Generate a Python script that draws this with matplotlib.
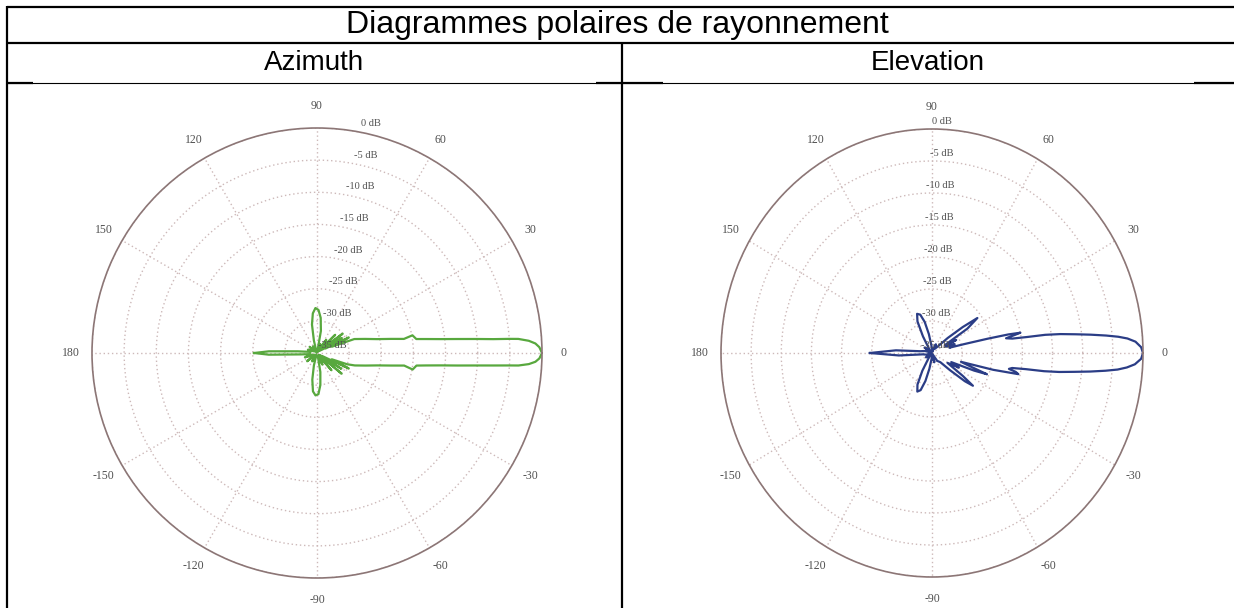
import numpy as np
import matplotlib
matplotlib.use("Agg")
import matplotlib.pyplot as plt
from matplotlib.transforms import offset_copy

# table texts
title = "Diagrammes polaires de rayonnement"
col_titles = ["Azimuth", "Elevation"]

# polar grid
theta_ticks = [0, 30, 60, 90, 120, 150, 180, 210, 240, 270, 300, 330]
theta_labels = ["0", "30", "60", "90", "120", "150", "180",
                "-150", "-120", "-90", "-60", "-30"]
db_rings = [0, -5, -10, -15, -20, -25, -30, -35]
db_labels = ["0 dB", "-5 dB", "-10 dB", "-15 dB", "-20 dB", "-25 dB", "-30 dB", "-35 dB"]

# azimuth pattern (deg, dB)
az_angles = [-180, -178, -175, -170, -160, -150, -140, -130, -120, -112,
             -104, -100, -96, -92, -88, -84, -80, -75, -65, -58,
             -50, -46, -40, -37, -33, -30, -26, -23, -20.5, -18.2,
             -14.5, -11.6, -9.6, -8.2, -9.8, -7.2, -6.5, -5.7, -5.1, -4.45,
             -4.05, -3.7, -3.55, -3.0, -2.3, -1.4, 0,
             1.5, 2.5, 3.3, 4.0, 4.2, 4.5, 5.0, 5.7, 6.4, 7.3,
             8.0, 10.5, 9.2, 10.8, 13.0, 16.3, 20.5, 23, 26, 28,
             31, 33, 37, 40, 45, 48, 55, 60, 70, 76,
             80, 84, 88, 92, 96, 100, 104, 110, 120, 130,
             140, 150, 160, 170, 175, 178, 180]
az_db = [-25.2, -27.5, -32.5, -34, -33, -34.5, -33, -34.5, -33.5, -34.8,
         -33, -30.8, -29, -28.4, -28.6, -30, -32, -34.5, -33, -34.5,
         -31.5, -34.5, -30, -34.5, -30.5, -34, -29.5, -32.5, -30, -28.8,
         -27.2, -25.4, -23.3, -21.3, -19.9, -19.4, -17.9, -15.6, -13.1, -10,
         -7.5, -5, -3.6, -2, -1, -0.4, 0,
         -0.4, -1, -2, -3.6, -5, -7.5, -10, -13.1, -15.6, -17.9,
         -19.4, -19.9, -21.3, -23.3, -25.4, -27.2, -28.8, -32.5, -29.5, -33.5,
         -30.5, -34, -30, -34.5, -31, -34.5, -32.5, -34.8, -33.5, -34.8,
         -31.5, -29.5, -28.3, -28, -28.8, -30.5, -33, -34.7, -33.8, -34.8,
         -33.5, -34.5, -33.5, -34, -32, -27.5, -25.2]

# elevation pattern (deg, dB)
el_angles = [-180, -176, -172, -165, -155, -145, -135, -125, -120, -116,
             -112, -108, -104, -100, -95, -85, -75, -65, -55, -46,
             -42, -39, -37, -35, -31, -27, -24, -21.5, -20, -18.5,
             -16, -14.5, -13, -12, -11, -10, -9.2, -8.7, -8.0, -7.1,
             -6.3, -5.5, -4.8, -4.0, -3.0, -1.5, 0,
             1.5, 3.0, 4.0, 4.7, 5.4, 6.2, 7.0, 7.9, 8.6, 9.0,
             9.6, 10.6, 11.6, 12.2, 12.9, 13.6, 14.6, 16, 20, 24,
             27, 30, 33, 36, 38.5, 42, 46, 55, 65, 75,
             85, 95, 100, 104, 108, 112, 116, 120, 125, 135,
             145, 155, 165, 172, 176, 180]
el_db = [-24.7, -29.5, -33.5, -34, -34.8, -33.8, -34.8, -34, -31.8, -29.5,
         -28.5, -28.9, -30.5, -32.5, -34, -34.6, -33.5, -34.8, -33.5, -33,
         -31, -28, -26.5, -28.8, -32, -30, -31.5, -27.5, -25.3, -28,
         -30, -24.5, -20.3, -20.8, -22, -21.5, -19.2, -16.2, -13.7, -11.2,
         -8.6, -6.1, -4.1, -2.6, -1.3, -0.3, 0,
         -0.3, -1.2, -2.5, -4, -6, -8.5, -11, -13.5, -16, -19,
         -21.5, -22.5, -21, -20, -22, -25.5, -29.5, -32, -31, -32.5,
         -30.5, -32.5, -28, -25.7, -28.5, -31.5, -33.5, -34.2, -33.5, -34.8,
         -34.5, -33.8, -32, -30, -28.7, -28.4, -29.5, -32, -34, -34.8,
         -33.5, -34.8, -33.8, -33, -29, -24.7]

W, H = 1234, 608
fig = plt.figure(figsize=(W / 100, H / 100), dpi=100)

# table frame drawn in pixel coordinates
bg = fig.add_axes([0, 0, 1, 1])
bg.set_xlim(0, W)
bg.set_ylim(H, 0)
bg.axis("off")
lw_thick = 1.6
bg.plot([7, W], [7, 7], color="k", lw=lw_thick, solid_capstyle="butt")
bg.plot([7, W], [43, 43], color="k", lw=lw_thick, solid_capstyle="butt")
bg.plot([7, 7], [6, H], color="k", lw=lw_thick, solid_capstyle="butt")
bg.plot([622, 622], [43, H], color="k", lw=lw_thick, solid_capstyle="butt")
bg.plot([7, W], [82.5, 82.5], color="k", lw=0.8, solid_capstyle="butt")
for x0, x1 in [(7, 33), (596, 663), (1194, W)]:
    bg.plot([x0, x1], [83, 83], color="k", lw=lw_thick, solid_capstyle="butt")

sans = "Liberation Sans"
bg.text(617, 25, title, ha="center", va="center", fontsize=23, family=sans)
bg.text(314, 63, col_titles[0], ha="center", va="center", fontsize=20, family=sans)
bg.text(928, 63, col_titles[1], ha="center", va="center", fontsize=20, family=sans)

grid_col = "#cdb9b9"
label_col = "#505050"


def polar_panel(rect, angles, db, color, lab_angle, lab_dx):
    ax = fig.add_axes(rect, projection="polar")
    ax.set_aspect("auto")
    ax.set_rlim(-35, 0)
    ax.set_rticks(db_rings)
    ax.set_yticklabels([])
    ax.set_xticks(np.deg2rad(theta_ticks))
    ax.set_xticklabels(theta_labels, fontsize=8.5, family="Liberation Serif",
                       color=label_col)
    ax.tick_params(axis="x", pad=5)
    ax.grid(True, color=grid_col, linestyle=(0, (1, 2)), lw=1.0)
    ax.spines["polar"].set_color("#8c7676")
    ax.spines["polar"].set_linewidth(1.2)
    trans = offset_copy(ax.transData, fig=fig, x=lab_dx, y=8, units="dots")
    for r, lab in zip(db_rings, db_labels):
        ax.text(np.deg2rad(lab_angle), r, lab, transform=trans, ha="center",
                va="center", fontsize=7.5, family="Liberation Serif", color=label_col)
    ax.plot(np.deg2rad(angles), db, color=color, lw=1.6)
    return ax


# left panel: circle of radius 225 px centred at (317, 353)
polar_panel([(317 - 225) / W, (H - 353 - 225) / H, 450 / W, 450 / H],
            az_angles, az_db, "#58a83e", 80, 15)
# right panel: slightly squeezed horizontally, centred at (932, 353)
polar_panel([(932 - 211) / W, (H - 353 - 224) / H, 422 / W, 448 / H],
            el_angles, el_db, "#2b3d86", 88, 3)

fig.savefig("out.png", dpi=100)
